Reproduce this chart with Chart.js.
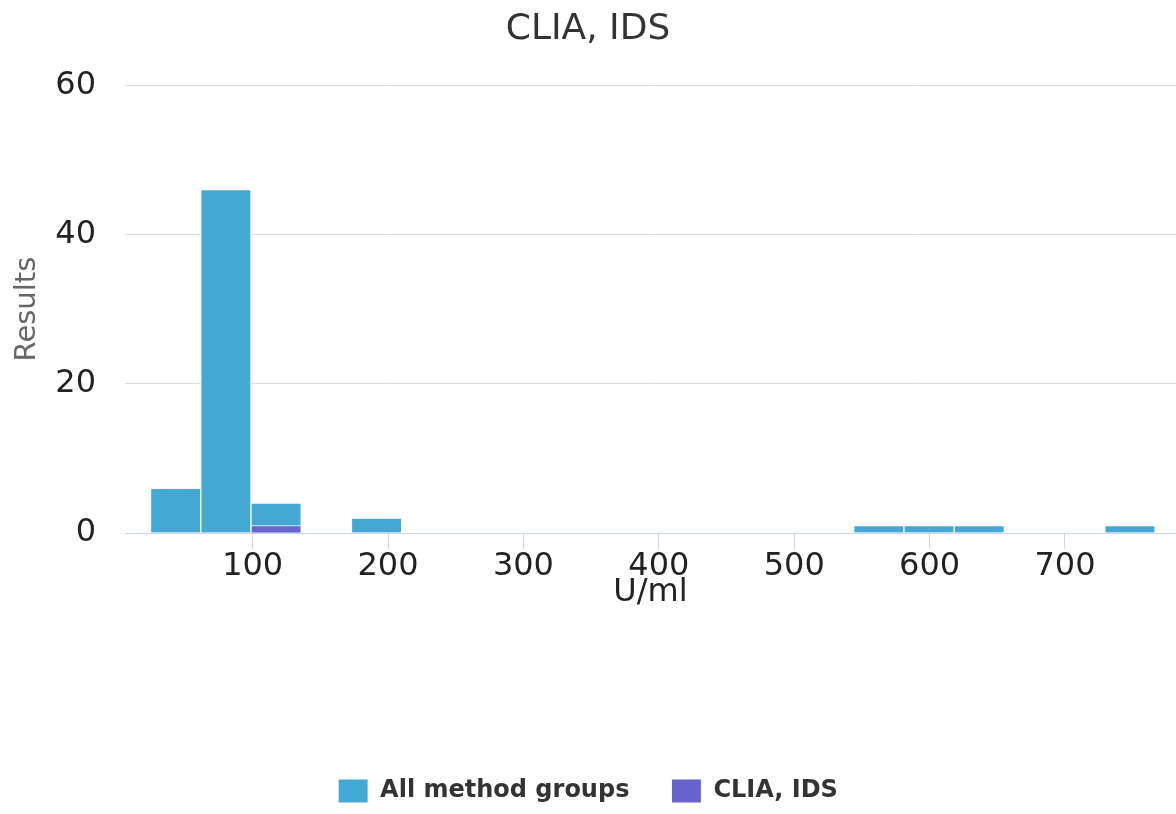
<!DOCTYPE html>
<html>
<head>
<meta charset="utf-8">
<script src="https://cdn.jsdelivr.net/npm/chart.js@4"></script>
<style>
  html, body { margin: 0; padding: 0; overflow: hidden; background: #fff; }
  #wrap { width: 1176px; height: 814px; position: relative; }
</style>
</head>
<body>
<div id="wrap"><canvas id="histChart"></canvas></div>
<script>
// bin centres (U/ml) of the histogram, bin width ~37.1
const binCenters = [43.1, 80.2, 117.3, 154.4, 191.5, 228.6, 265.7, 302.8, 339.9, 377,
                    414.1, 451.2, 488.3, 525.4, 562.5, 599.6, 636.7, 673.8, 710.9, 748];
const allGroupsCounts = [6, 46, 4, 0, 2, 0, 0, 0, 0, 0,
                         0, 0, 0, 0, 1, 1, 1, 0, 0, 1];
const cliaCenters = [117.3];
const cliaCounts = [1];
const yTicks = [0, 20, 40, 60];

const font = 'DejaVu Sans';

const ctx = document.getElementById('histChart');
new Chart(ctx, {
  type: 'bar',
  data: {
    datasets: [{
      // drawn last -> on top, legend reversed below
      label: 'CLIA, IDS',
      data: cliaCenters.map((x, i) => ({ x: x, y: cliaCounts[i] })),
      backgroundColor: '#6863cd',
      borderColor: '#ffffff',
      borderWidth: 1,
      grouped: false,
      barPercentage: 1,
      categoryPercentage: 1
    }, {
      label: 'All method groups',
      data: binCenters.map((x, i) => ({ x: x, y: allGroupsCounts[i] })),
      backgroundColor: '#44a8d5',
      borderColor: '#ffffff',
      borderWidth: 1,
      grouped: false,
      barPercentage: 1,
      categoryPercentage: 1
    }]
  },
  options: {
    responsive: true,
    maintainAspectRatio: false,
    animation: false,
    layout: { padding: { left: 0, right: 0, top: 0, bottom: 1 } },
    plugins: {
      title: {
        display: true,
        text: 'CLIA, IDS',
        color: '#333333',
        font: { family: font, size: 36, weight: 'normal' },
        padding: { top: 8, bottom: 34 }
      },
      legend: {
        position: 'bottom',
        reverse: true,
        labels: {
          boxWidth: 30,
          boxHeight: 24,
          padding: 42,
          color: '#333333',
          font: { family: font, size: 24, weight: 'bold' }
        }
      },
      tooltip: { enabled: false }
    },
    scales: {
      x: {
        type: 'linear',
        min: 5.7,
        max: 782,
        offset: false,
        border: { display: true, color: '#ccd6eb', width: 1 },
        grid: {
          offset: false,
          drawOnChartArea: false,
          drawTicks: true,
          tickLength: 16,
          color: '#ccd6eb'
        },
        ticks: {
          stepSize: 100,
          includeBounds: false,
          padding: 2,
          color: '#222222',
          maxRotation: 0,
          font: { family: font, size: 32, lineHeight: 1 }
        },
        title: {
          display: true,
          text: 'U/ml',
          color: '#222222',
          font: { family: font, size: 32, lineHeight: 1 },
          padding: { top: -8, bottom: 128 }
        }
      },
      y: {
        min: 0,
        max: 60,
        border: { display: false },
        afterBuildTicks: (axis) => {
          axis.ticks = yTicks.map(v => ({ value: v }));
        },
        afterFit: (axis) => {
          axis.width = 125;
        },
        grid: {
          drawTicks: false,
          color: (c) => c.tick && c.tick.value === 0 ? 'rgba(0,0,0,0)' : '#d9dde3'
        },
        ticks: {
          padding: 29,
          color: '#222222',
          font: { family: font, size: 32 }
        },
        title: {
          display: true,
          text: 'Results',
          color: '#666666',
          font: { family: font, size: 29 },
          padding: { top: 10, bottom: 10 }
        }
      }
    }
  }
});
</script>
</body>
</html>
